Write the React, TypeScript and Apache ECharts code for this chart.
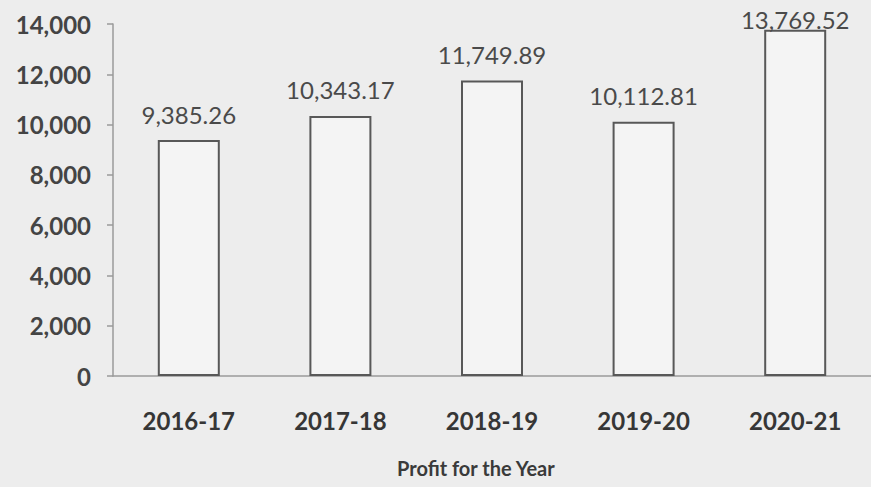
import React, { useEffect, useRef } from "react";
import * as echarts from "echarts";

const categories = ["2016-17", "2017-18", "2018-19", "2019-20", "2020-21"];
const profitValues = [9385.26, 10343.17, 11749.89, 10112.81, 13769.52];
const yTicks = [0, 2000, 4000, 6000, 8000, 10000, 12000, 14000];
const axisTitle = "Profit for the Year";

const fmt2 = (v: number) =>
  v.toLocaleString("en-US", { minimumFractionDigits: 2, maximumFractionDigits: 2 });
const fmt0 = (v: number) => v.toLocaleString("en-US");

export default function App() {
  const ref = useRef<HTMLDivElement>(null);
  useEffect(() => {
    if (!ref.current) return;
    const chart = echarts.init(ref.current, undefined, { renderer: "svg" });
    const font = "Lato, 'Open Sans', sans-serif";
    chart.setOption({
      animation: false,
      backgroundColor: "#ededed",
      grid: { left: 113, right: -13, top: 24, bottom: 111, containLabel: false },
      xAxis: {
        type: "category",
        data: categories,
        axisLine: { show: true, lineStyle: { color: "#9a9a9a", width: 1.5 } },
        axisTick: { show: false },
        axisLabel: {
          margin: 32,
          fontFamily: font,
          fontSize: 24,
          fontWeight: "bold",
          color: "#363636",
        },
      },
      yAxis: {
        type: "value",
        min: yTicks[0],
        max: yTicks[yTicks.length - 1],
        interval: yTicks[1] - yTicks[0],
        splitLine: { show: false },
        axisLine: { show: true, lineStyle: { color: "#9a9a9a", width: 1.5 } },
        axisTick: { show: true, length: 6, lineStyle: { color: "#9a9a9a", width: 1.5 } },
        axisLabel: {
          margin: 22,
          fontFamily: font,
          fontSize: 24,
          fontWeight: "bold",
          color: "#444444",
          formatter: (v: number) => fmt0(v),
        },
      },
      series: [
        {
          type: "bar",
          barWidth: 62,
          data: profitValues.map((v, i) =>
            i === profitValues.length - 1
              ? { value: v, label: { distance: -2 } }
              : { value: v }
          ),
          itemStyle: { color: "#f4f4f4", borderColor: "#585858", borderWidth: 2 },
          label: {
            show: true,
            position: "top",
            distance: 14,
            fontFamily: font,
            fontSize: 24,
            color: "#4a4a4a",
            formatter: (p: any) => fmt2(p.value),
          },
        },
      ],
      graphic: [
        {
          type: "text",
          left: 397,
          top: 458,
          style: {
            text: axisTitle,
            fontFamily: font,
            fontSize: 20,
            fontWeight: "bold",
            fill: "#3a3a3a",
          },
        },
      ],
    });
    return () => chart.dispose();
  }, []);
  return <div ref={ref} style={{ width: 871, height: 487, position: "absolute", left: 0, top: 0 }} />;
}
